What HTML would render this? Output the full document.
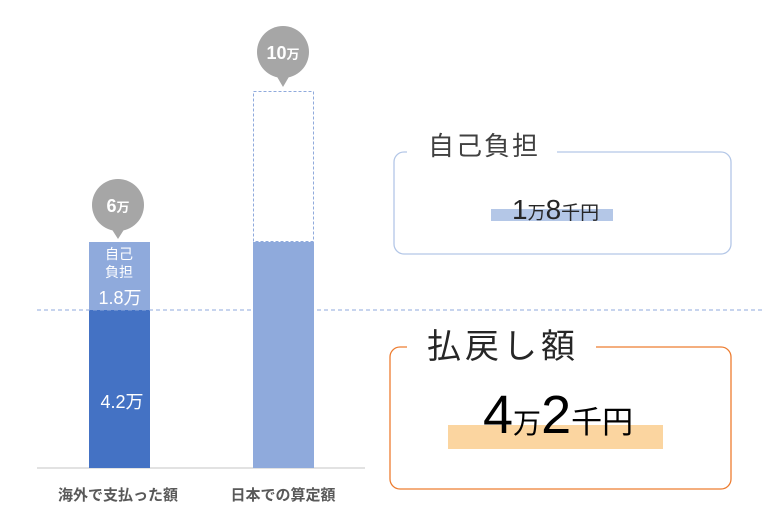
<!DOCTYPE html>
<html><head><meta charset="utf-8"><style>
body{margin:0;width:765px;height:510px;background:#fff;position:relative;overflow:hidden;font-family:"Liberation Sans","Noto Sans CJK JP",sans-serif}
.a{position:absolute}
</style></head><body>
<svg class="a" style="left:0;top:0" width="765" height="510">
<line x1="37" y1="468" x2="365" y2="468" stroke="#d9d9d9" stroke-width="1.5"/>
<rect x="89" y="242" width="61" height="68" fill="#8faadc"/>
<rect x="89" y="310" width="61" height="158" fill="#4472c4"/>
<rect x="253" y="242" width="61" height="226" fill="#8faadc"/>
<rect x="253.5" y="91.5" width="60" height="150" fill="none" stroke="#8faadc" stroke-dasharray="3,2"/>
<line x1="37" y1="310" x2="765" y2="310" stroke="#8faadc" stroke-dasharray="4,3"/>
<circle cx="118" cy="205" r="26" fill="#a6a6a6"/><polygon points="111,228 125,228 118,239" fill="#a6a6a6"/>
<circle cx="283" cy="52" r="26" fill="#a6a6a6"/><polygon points="276,75 290,75 283,87" fill="#a6a6a6"/>
<text x="118" y="212" font-size="18" font-weight="bold" fill="#fff" text-anchor="middle" font-family="Liberation Sans,Noto Sans CJK JP,sans-serif">6<tspan font-size="13">万</tspan></text>
<text x="283" y="59" font-size="18" font-weight="bold" fill="#fff" text-anchor="middle" font-family="Liberation Sans,Noto Sans CJK JP,sans-serif">10<tspan font-size="13">万</tspan></text>
<text x="119" y="259" font-size="14" fill="#fff" text-anchor="middle" font-family="Noto Sans CJK JP,sans-serif">自己</text>
<text x="119" y="277" font-size="14" fill="#fff" text-anchor="middle" font-family="Noto Sans CJK JP,sans-serif">負担</text>
<text x="120" y="304" font-size="18" fill="#fff" text-anchor="middle" font-family="Liberation Sans,Noto Sans CJK JP,sans-serif">1.8万</text>
<text x="122" y="408" font-size="18" fill="#fff" text-anchor="middle" font-family="Liberation Sans,Noto Sans CJK JP,sans-serif">4.2万</text>
<text x="118" y="500" font-size="15" font-weight="bold" fill="#595959" text-anchor="middle" font-family="Noto Sans CJK JP,sans-serif">海外で支払った額</text>
<text x="283" y="500" font-size="15" font-weight="bold" fill="#595959" text-anchor="middle" font-family="Noto Sans CJK JP,sans-serif">日本での算定額</text>
<path d="M407,152 H404 a10,10 0 0 0 -10,10 V244 a10,10 0 0 0 10,10 H721 a10,10 0 0 0 10,-10 V162 a10,10 0 0 0 -10,-10 H557" fill="none" stroke="#b4c7e7" stroke-width="1.3"/>
<text x="428" y="155" font-size="26" fill="#404040" font-family="Noto Sans CJK JP,sans-serif" letter-spacing="2">自己負担</text>
<rect x="491" y="209" width="122" height="12" fill="#b4c7e7"/>
<text x="512" y="219" font-size="28" fill="#262626" font-family="Liberation Sans,Noto Sans CJK JP,sans-serif">1<tspan font-size="18">万</tspan>8<tspan font-size="19">千円</tspan></text>
<path d="M407,347 H400 a10,10 0 0 0 -10,10 V479 a10,10 0 0 0 10,10 H721 a10,10 0 0 0 10,-10 V357 a10,10 0 0 0 -10,-10 H596" fill="none" stroke="#ed7d31" stroke-width="1.3"/>
<text x="427" y="358" font-size="34" fill="#262626" font-family="Noto Sans CJK JP,sans-serif" letter-spacing="4">払戻し額</text>
<rect x="448" y="425" width="215" height="24" fill="#fbd5a0"/>
<text x="483" y="433" font-size="54" fill="#000" font-family="Liberation Sans,Noto Sans CJK JP,sans-serif">4<tspan font-size="28">万</tspan>2<tspan font-size="31">千円</tspan></text>
</svg>
</body></html>
